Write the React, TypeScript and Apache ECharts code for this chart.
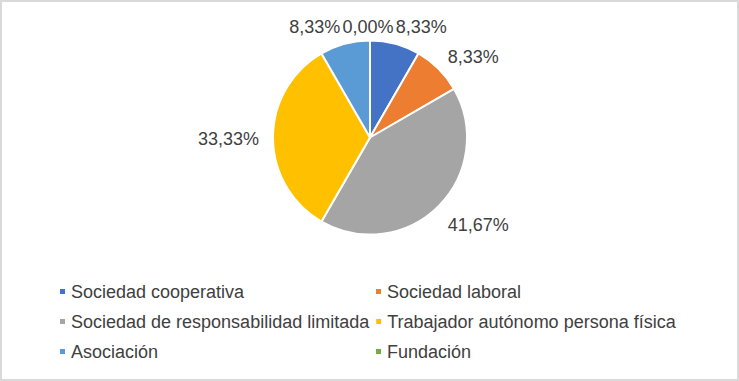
import React, { useEffect, useRef } from "react";
import * as echarts from "echarts";

const categories = [
  "Sociedad cooperativa",
  "Sociedad laboral",
  "Sociedad de responsabilidad limitada",
  "Trabajador autónomo persona física",
  "Asociación",
  "Fundación",
];
const percentages = [8.33, 8.33, 41.67, 33.33, 8.33, 0.0];
const colors = ["#4472C4", "#ED7D31", "#A5A5A5", "#FFC000", "#5B9BD5", "#70AD47"];

const FONT = "'Liberation Sans', Arial, sans-serif";

export default function App() {
  const ref = useRef<HTMLDivElement>(null);
  useEffect(() => {
    if (!ref.current) return;
    const chart = echarts.init(ref.current, null, { renderer: "svg" });
    const labelAdjust: Record<number, any> = {
      0: { dx: -2, dy: -7 },
      1: { dx: 2, dy: -5 },
      2: { dx: 2, dy: 12 },
      3: { dx: -4, dy: 2 },
      4: { dx: -2, dy: -7 },
      5: { dx: -2, dy: -3.5, align: "center" },
    };
    chart.setOption({
      animation: false,
      color: colors,
      graphic: [
        {
          type: "rect",
          shape: { x: 1, y: 1, width: 737, height: 379 },
          style: { fill: "none", stroke: "#D9D9D9", lineWidth: 2 },
          silent: true,
        },
      ],
      legend: {
        left: 58,
        top: 279,
        width: 640,
        padding: 0,
        orient: "horizontal",
        icon: "rect",
        itemWidth: 7,
        itemHeight: 7,
        itemGap: 5,
        textStyle: {
          fontFamily: FONT,
          fontSize: 18,
          color: "#404040",
          width: 298,
          lineHeight: 25,
        },
        data: categories,
      },
      series: [
        {
          type: "pie",
          center: [370, 137.5],
          radius: 97,
          startAngle: 90,
          clockwise: true,
          avoidLabelOverlap: false,
          itemStyle: { borderColor: "#FFFFFF", borderWidth: 2 },
          label: {
            show: true,
            position: "outside",
            distanceToLabelLine: 0,
            fontFamily: FONT,
            fontSize: 18,
            color: "#404040",
            formatter: (p: any) => Number(p.value).toFixed(2).replace(".", ",") + "%",
          },
          labelLine: { show: false, length: 10, length2: 0 },
          labelLayout: (params: any) => labelAdjust[params.dataIndex] || {},
          emphasis: { disabled: true },
          data: categories.map((name, i) => ({ name, value: percentages[i] })),
        },
      ],
    });
    return () => chart.dispose();
  }, []);
  return (
    <div
      ref={ref}
      style={{ position: "fixed", left: 0, top: 0, width: 739, height: 381, background: "#fff" }}
    />
  );
}
